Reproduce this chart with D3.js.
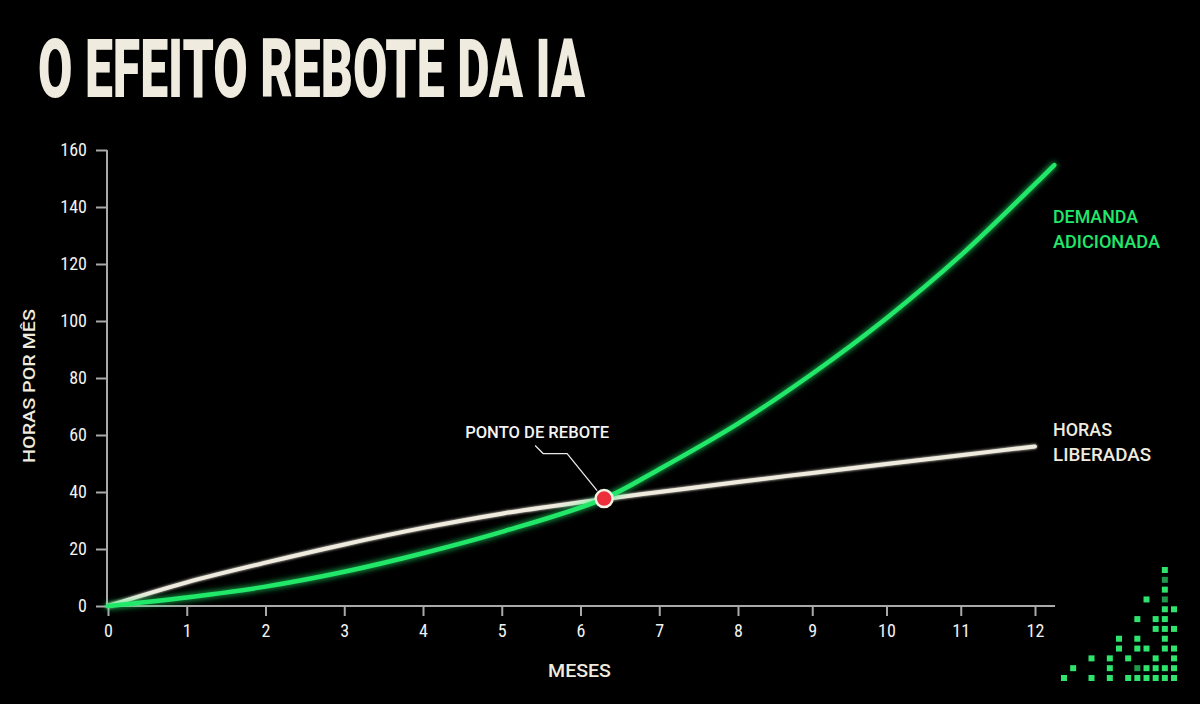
<!DOCTYPE html>
<html>
<head>
<meta charset="utf-8">
<script src="https://cdn.jsdelivr.net/npm/d3@7"></script>
<style>
  html, body { margin: 0; padding: 0; background: #000; }
  svg { display: block; }
</style>
</head>
<body>
<svg id="chart" width="1200" height="704"></svg>
<script>
// ---- data ----
const title = "O EFEITO REBOTE DA IA";
const yLabel = "HORAS POR MÊS";
const xLabel = "MESES";
const xTicks = [0,1,2,3,4,5,6,7,8,9,10,11,12];
const yTicks = [0,20,40,60,80,100,120,140,160];

const freedMonths = [0,1,2,3,4,5,6,7,8,9,10,11,12];
const freedHours  = [0,8.3,15.2,21.6,27.4,32.4,36.4,40,43.5,46.7,49.8,52.9,56];

const demandMonths = [0,1,2,3,4,5,6.3,7,8,9,10,11,12,12.26];
const demandHours  = [0,3,6.8,12,18.5,26,37.7,48,64,81.5,101,123,148,154.7];

const reboundPoint = {x: 6.3, y: 37.7};
const reboundLabel = "PONTO DE REBOTE";
const demandLabel = ["DEMANDA", "ADICIONADA"];
const freedLabel = ["HORAS", "LIBERADAS"];

// decorative pixel block (column, row, dim)
const pixelCols = [0,3,5,7,8,9,10,11,12, 1,5,8,9,10,11,12, 3,5,7,10,12, 6,8,9,11,12, 6,8,11, 10,11,12, 8,10,11, 11,12, 9,11, 11, 11, 11];
const pixelRows = [0,0,0,0,0,0,0,0,0, 1,1,1,1,1,1,1, 2,2,2,2,2, 3,3,3,3,3, 4,4,4, 5,5,5, 6,6,6, 7,7, 8,8, 9, 10, 11];
const pixelDim  = [0,0,0,0,0,0,0,0,0, 0,0,1,0,0,0,0, 0,0,0,0,0, 0,0,0,0,0, 0,0,0, 0,0,0, 0,0,0, 0,0, 0,1, 0, 1, 0];

// ---- layout ----
const svg = d3.select("#chart");
const W = 1200, H = 704;
svg.append("rect").attr("width", W).attr("height", H).attr("fill", "#000");

const x = d3.scaleLinear().domain([0, 8, 12]).range([108, 738, 1035]);
const y = d3.scaleLinear().domain([0, 160]).range([606, 150]);

const cream = "#efebdf";
const green = "#22e86a";
const axisGray = "#a9a9a9";
const tickFont = "'Roboto Condensed','DejaVu Sans Condensed',Roboto,sans-serif";

// defs: glow
const defs = svg.append("defs");
const glow = defs.append("filter").attr("id", "glow")
  .attr("x", "-20%").attr("y", "-20%").attr("width", "140%").attr("height", "140%");
glow.append("feGaussianBlur").attr("in", "SourceGraphic").attr("stdDeviation", 3).attr("result", "blur");
const gm = glow.append("feMerge");
gm.append("feMergeNode").attr("in", "blur");
gm.append("feMergeNode").attr("in", "SourceGraphic");

const soft = defs.append("filter").attr("id", "soft")
  .attr("x", "-20%").attr("y", "-20%").attr("width", "140%").attr("height", "140%");
soft.append("feGaussianBlur").attr("in", "SourceGraphic").attr("stdDeviation", 1.5).attr("result", "blur");
const sm = soft.append("feMerge");
sm.append("feMergeNode").attr("in", "blur");
sm.append("feMergeNode").attr("in", "SourceGraphic");

// title
svg.append("text")
  .attr("x", 38).attr("y", 97)
  .attr("font-family", "Roboto, 'Open Sans', sans-serif")
  .attr("font-weight", 900)
  .attr("font-size", 81)
  .attr("fill", cream)
  .attr("textLength", 547)
  .attr("lengthAdjust", "spacingAndGlyphs")
  .text(title);

// axes
const yAxis = d3.axisLeft(y).tickValues(yTicks).tickSize(11).tickPadding(9);
const gy = svg.append("g").attr("transform", `translate(${x(0) - 1},0)`).call(yAxis);
gy.select(".domain").remove();
gy.selectAll(".tick line").attr("stroke", axisGray).attr("stroke-width", 2);
gy.selectAll(".tick text").attr("fill", "#f2f2f2").attr("font-family", tickFont)
  .attr("font-size", 18).attr("font-stretch", "condensed");

const xAxis = d3.axisBottom(x).tickValues(xTicks).tickSize(10).tickPadding(8);
const gx = svg.append("g").attr("transform", `translate(0,${y(0)})`).call(xAxis);
gx.select(".domain").remove();
gx.selectAll(".tick line").attr("stroke", axisGray).attr("stroke-width", 2);
gx.selectAll(".tick text").attr("fill", "#f2f2f2").attr("font-family", tickFont)
  .attr("font-size", 18).attr("font-stretch", "condensed");

// axis lines
svg.append("line").attr("x1", x(0) - 1).attr("x2", x(0) - 1)
  .attr("y1", y(0) + 1).attr("y2", y(160))
  .attr("stroke", axisGray).attr("stroke-width", 2);
svg.append("line").attr("x1", x(0) - 2).attr("x2", x(12.27))
  .attr("y1", y(0)).attr("y2", y(0))
  .attr("stroke", axisGray).attr("stroke-width", 2);

// axis titles
svg.append("text")
  .attr("transform", `translate(35,${(y(0) + y(160)) / 2 + 8}) rotate(-90)`)
  .attr("text-anchor", "middle")
  .attr("font-family", "Roboto, sans-serif").attr("font-weight", 500)
  .attr("font-size", 17).attr("fill", cream)
  .attr("textLength", 154).attr("lengthAdjust", "spacingAndGlyphs")
  .text(yLabel);

svg.append("text")
  .attr("x", (x(5) + x(7)) / 2 - 1).attr("y", 677)
  .attr("text-anchor", "middle")
  .attr("font-family", "Roboto, sans-serif").attr("font-weight", 500)
  .attr("font-size", 18).attr("fill", cream)
  .attr("textLength", 63).attr("lengthAdjust", "spacingAndGlyphs")
  .text(xLabel);

// lines
const line = d3.line().x(d => x(d[0])).y(d => y(d[1])).curve(d3.curveCatmullRom.alpha(0.5));
const freed = d3.zip(freedMonths, freedHours);
const demand = d3.zip(demandMonths, demandHours);

svg.append("path").datum(freed)
  .attr("d", line).attr("fill", "none")
  .attr("stroke", cream).attr("stroke-width", 4)
  .attr("stroke-linecap", "round")
  .attr("filter", "url(#soft)");

svg.append("path").datum(demand)
  .attr("d", line).attr("fill", "none")
  .attr("stroke", green).attr("stroke-width", 4.5)
  .attr("stroke-linecap", "round")
  .attr("filter", "url(#glow)");

// annotation
const cx = x(reboundPoint.x), cy = y(reboundPoint.y);
svg.append("path")
  .attr("d", `M${cx - 7},${cy - 8} L${cx - 37},${cy - 45} L${cx - 61},${cy - 45} L${cx - 69},${cy - 53}`)
  .attr("fill", "none").attr("stroke", "#e8e8e8").attr("stroke-width", 1.3);
svg.append("circle").attr("cx", cx).attr("cy", cy).attr("r", 8.5)
  .attr("fill", "#ec2f3b").attr("stroke", "#f6f1e6").attr("stroke-width", 2.5);
svg.append("text")
  .attr("x", cx - 139).attr("y", cy - 61)
  .attr("font-family", "Roboto, sans-serif").attr("font-weight", 500)
  .attr("font-size", 17).attr("fill", "#f4f4f4")
  .attr("textLength", 144).attr("lengthAdjust", "spacingAndGlyphs")
  .text(reboundLabel);

// series labels
const labelX = 1053;
const dl = svg.append("text").attr("font-family", "Roboto, sans-serif").attr("font-weight", 500)
  .attr("font-size", 18).attr("fill", green);
dl.append("tspan").attr("x", labelX).attr("y", 223).attr("textLength", 85)
  .attr("lengthAdjust", "spacingAndGlyphs").text(demandLabel[0]);
dl.append("tspan").attr("x", labelX).attr("y", 248).attr("textLength", 107)
  .attr("lengthAdjust", "spacingAndGlyphs").text(demandLabel[1]);

const fl = svg.append("text").attr("font-family", "Roboto, sans-serif").attr("font-weight", 500)
  .attr("font-size", 18).attr("fill", cream);
fl.append("tspan").attr("x", labelX).attr("y", 436).attr("textLength", 59)
  .attr("lengthAdjust", "spacingAndGlyphs").text(freedLabel[0]);
fl.append("tspan").attr("x", labelX).attr("y", 461).attr("textLength", 98)
  .attr("lengthAdjust", "spacingAndGlyphs").text(freedLabel[1]);

// decorative pixels
const px = d3.scaleLinear().domain([0, 12]).range([1064, 1174]);
const py = d3.scaleLinear().domain([0, 11]).range([678, 570]);
const pixels = d3.range(pixelCols.length).map(i => ({c: pixelCols[i], r: pixelRows[i], d: pixelDim[i]}));
svg.append("g").selectAll("rect").data(pixels).join("rect")
  .attr("x", d => px(d.c) - 3).attr("y", d => py(d.r) - 3)
  .attr("width", 6).attr("height", 6)
  .attr("fill", d => d.d ? "#1f9a4a" : "#2ee46c");
</script>
</body>
</html>
